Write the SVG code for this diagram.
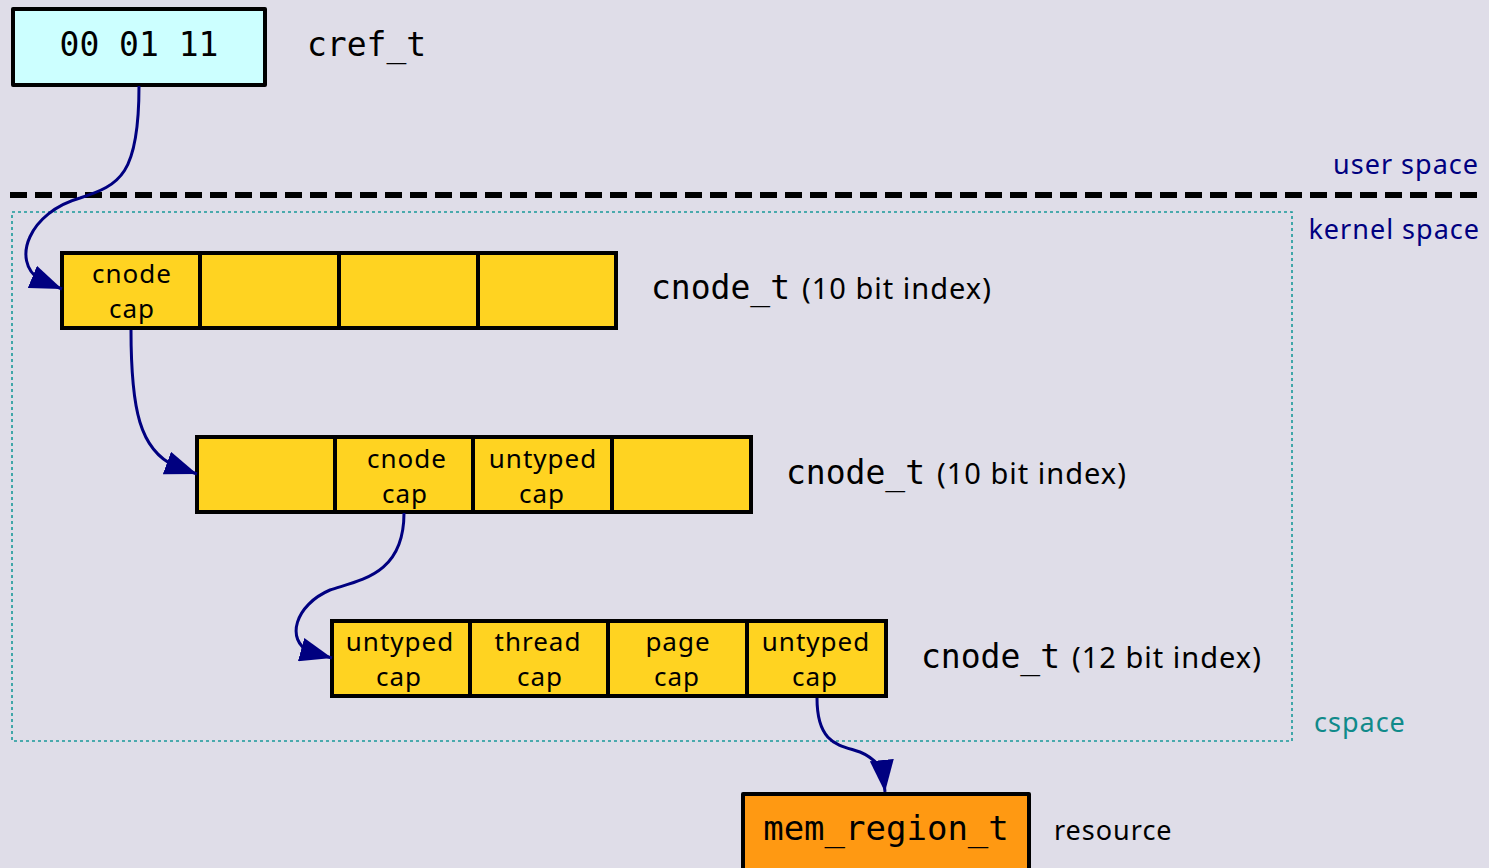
<svg xmlns="http://www.w3.org/2000/svg" width="1489" height="868" viewBox="0 0 1489 868">
  <style>
    .box { stroke: #000; stroke-width: 4; stroke-linejoin: round; }
    .cell { fill: #ffd321; stroke: #000; stroke-width: 4; }
    .mono { font-family: "DejaVu Sans Mono", "Liberation Mono", monospace; fill: #000; }
    .sans { font-family: "Noto Sans", "Open Sans", "Liberation Sans", sans-serif; letter-spacing: 1px; }
    .capt { font-size: 26px; fill: #000; text-anchor: middle; }
    .link { fill: none; stroke: #000080; stroke-width: 3; }
  </style>
  <defs>
    <marker id="arrow" markerUnits="userSpaceOnUse" markerWidth="34" markerHeight="24" refX="32" refY="12" orient="auto">
      <path d="M0,0 L32,12 L0,24 Z" fill="#000080"/>
    </marker>
  </defs>

  <rect width="1489" height="868" fill="#dfdde8"/>

  <!-- user / kernel boundary -->
  <line x1="10" y1="195" x2="1482" y2="195" stroke="#000" stroke-width="6" stroke-dasharray="17,8"/>
  <text class="sans" x="1479" y="174" font-size="27" fill="#000080" text-anchor="end">user space</text>
  <text class="sans" x="1480" y="239" font-size="27" fill="#000080" text-anchor="end">kernel space</text>

  <!-- cspace region -->
  <rect x="12" y="212" width="1280" height="529" fill="none" stroke="#1a9999" stroke-width="1.6" stroke-dasharray="3,3"/>
  <text class="sans" x="1314" y="732" font-size="27" fill="#108a8a">cspace</text>

  <!-- cref -->
  <g id="cref">
    <rect class="box" x="13" y="9" width="252" height="76" fill="#ccffff"/>
    <text class="mono" x="139" y="56" font-size="33" text-anchor="middle">00 01 11</text>
    <text class="mono" x="307" y="56" font-size="33">cref_t</text>
  </g>

  <!-- cnode level 1 -->
  <g id="cnode1">
    <rect class="cell" x="62" y="253" width="138" height="75"/>
    <rect class="cell" x="200" y="253" width="139" height="75"/>
    <rect class="cell" x="339" y="253" width="139" height="75"/>
    <rect class="cell" x="478" y="253" width="138" height="75"/>
    <text class="sans capt" x="132" y="283">cnode</text>
    <text class="sans capt" x="132" y="318">cap</text>
    <text x="651" y="299"><tspan class="mono" font-size="33">cnode_t</tspan><tspan class="sans" font-size="29" dx="12">(10 bit index)</tspan></text>
  </g>

  <!-- cnode level 2 -->
  <g id="cnode2">
    <rect class="cell" x="197" y="437" width="138" height="75"/>
    <rect class="cell" x="335" y="437" width="138" height="75"/>
    <rect class="cell" x="473" y="437" width="139" height="75"/>
    <rect class="cell" x="612" y="437" width="139" height="75"/>
    <text class="sans capt" x="407" y="468">cnode</text>
    <text class="sans capt" x="405" y="503">cap</text>
    <text class="sans capt" x="543" y="468">untyped</text>
    <text class="sans capt" x="542" y="503">cap</text>
    <text x="786" y="484"><tspan class="mono" font-size="33">cnode_t</tspan><tspan class="sans" font-size="29" dx="12">(10 bit index)</tspan></text>
  </g>

  <!-- cnode level 3 -->
  <g id="cnode3">
    <rect class="cell" x="332" y="621" width="138" height="75"/>
    <rect class="cell" x="470" y="621" width="138" height="75"/>
    <rect class="cell" x="608" y="621" width="139" height="75"/>
    <rect class="cell" x="747" y="621" width="139" height="75"/>
    <text class="sans capt" x="400" y="651">untyped</text>
    <text class="sans capt" x="399" y="686">cap</text>
    <text class="sans capt" x="538" y="651">thread</text>
    <text class="sans capt" x="540" y="686">cap</text>
    <text class="sans capt" x="678" y="651">page</text>
    <text class="sans capt" x="677" y="686">cap</text>
    <text class="sans capt" x="816" y="651">untyped</text>
    <text class="sans capt" x="815" y="686">cap</text>
    <text x="921" y="668"><tspan class="mono" font-size="33">cnode_t</tspan><tspan class="sans" font-size="29" dx="12">(12 bit index)</tspan></text>
  </g>

  <!-- resource -->
  <g id="mem_region">
    <rect class="box" x="743" y="794" width="286" height="80" fill="#ff9912"/>
    <text class="mono" x="886" y="840" font-size="34" text-anchor="middle">mem_region_t</text>
    <text class="sans" x="1054" y="840" font-size="27" fill="#000">resource</text>
  </g>

  <!-- connectors -->
  <g id="links">
    <path class="link" d="M139,86 C139,175 120,185 80,198 C30,212 10,260 40,280 L62,289" marker-end="url(#arrow)"/>
    <path class="link" d="M131,330 C131,410 140,450 175,466 L197,474" marker-end="url(#arrow)"/>
    <path class="link" d="M404,513 C404,575 360,580 330,590 C295,605 285,640 310,652 L332,658" marker-end="url(#arrow)"/>
    <path class="link" d="M817,698 C817,745 840,745 860,752 C872,757 879,765 883,772 L885,792" marker-end="url(#arrow)"/>
  </g>
</svg>
